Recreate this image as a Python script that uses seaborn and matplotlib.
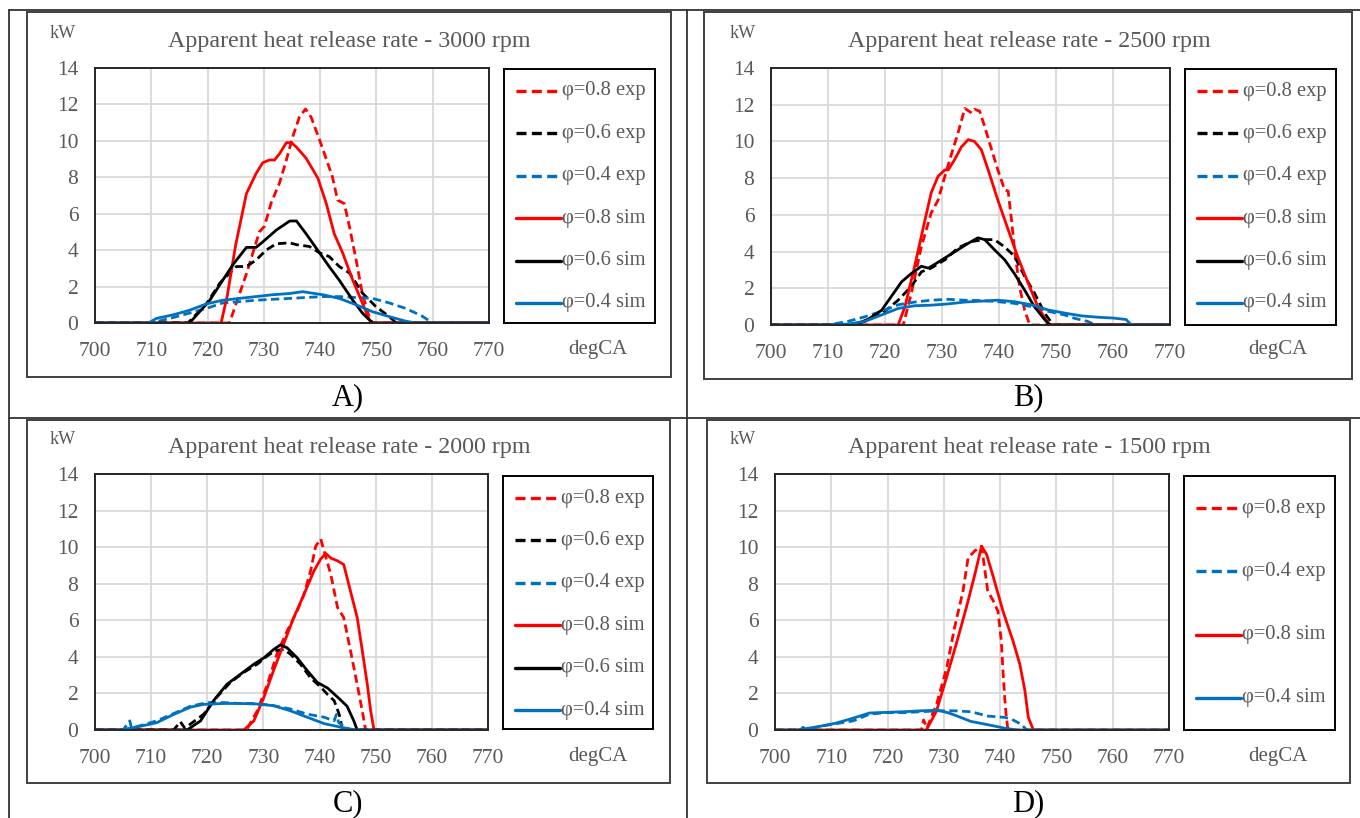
import matplotlib
matplotlib.use("Agg")
import matplotlib.pyplot as plt
from matplotlib.lines import Line2D
from matplotlib.patches import Rectangle
import seaborn as sns

# ---------------- data ----------------
XTICKS = [700, 710, 720, 730, 740, 750, 760, 770]
YTICKS = [0, 2, 4, 6, 8, 10, 12, 14]

# Panel A - 3000 rpm
a_r_exp_x = [700, 723.9, 724.5, 726.9, 729.2, 730.1, 731.3, 732.8, 734.0, 735.1, 736.3, 737.4, 738.4, 739.9, 741.1, 742.2, 743.1, 744.3, 745.2, 746.4, 747.5, 748.7, 749.3, 770]
a_r_exp_y = [0, 0, 0.55, 2.7, 5.0, 5.3, 6.6, 7.7, 8.95, 10.2, 11.3, 11.75, 11.3, 10.05, 9.0, 8.0, 6.75, 6.55, 5.3, 3.45, 1.6, 0.35, 0, 0]
a_k_exp_x = [700, 716.5, 719.8, 722.2, 725.1, 726.9, 728.6, 730.4, 732.2, 734.6, 735.8, 738.1, 739.9, 741.6, 743.4, 745.2, 747.5, 749.9, 752.3, 753.5, 770]
a_k_exp_y = [0, 0, 1.05, 2.2, 3.1, 3.1, 3.45, 4.0, 4.35, 4.4, 4.3, 4.2, 3.85, 3.65, 3.1, 2.75, 1.65, 0.9, 0.35, 0, 0]
a_b_exp_x = [700, 710.0, 713.9, 719.8, 722.7, 725.6, 728.6, 731.5, 734.6, 737.5, 740.5, 743.4, 746.4, 749.3, 752.3, 755.2, 758.0, 760.0, 770]
a_b_exp_y = [0, 0, 0.3, 0.8, 1.1, 1.17, 1.25, 1.3, 1.35, 1.4, 1.45, 1.45, 1.4, 1.35, 1.1, 0.8, 0.4, 0, 0]
a_r_sim_x = [700, 722.4, 723.5, 725.0, 726.9, 728.6, 729.8, 731.0, 731.9, 732.8, 734.0, 734.9, 735.8, 737.5, 739.6, 741.1, 742.5, 744.0, 745.8, 747.5, 748.7, 749.3, 770]
a_r_sim_y = [0, 0, 1.5, 4.3, 7.1, 8.2, 8.8, 8.95, 8.95, 9.3, 9.9, 9.9, 9.65, 9.05, 7.95, 6.55, 4.9, 3.85, 2.35, 1.1, 0.2, 0, 0]
a_k_sim_x = [700, 716.8, 720.4, 722.7, 724.5, 726.9, 728.6, 729.8, 732.2, 734.6, 735.8, 737.5, 739.9, 741.6, 743.4, 745.8, 747.5, 749.3, 770]
a_k_sim_y = [0, 0, 1.25, 2.35, 3.2, 4.15, 4.15, 4.45, 5.1, 5.6, 5.6, 4.9, 3.85, 3.1, 2.35, 1.25, 0.55, 0, 0]
a_b_sim_x = [700, 709.5, 710.9, 713.9, 716.8, 719.8, 722.7, 725.6, 728.6, 731.5, 734.6, 736.9, 740.5, 743.4, 746.4, 749.3, 752.3, 755.2, 757.0, 770]
a_b_sim_y = [0, 0, 0.25, 0.45, 0.7, 1.05, 1.25, 1.35, 1.45, 1.55, 1.62, 1.72, 1.55, 1.35, 1.0, 0.62, 0.35, 0.1, 0, 0]

# Panel B - 2500 rpm
b_r_exp_x = [700, 723.2, 724.6, 726.4, 728.1, 729.3, 730.5, 731.7, 732.8, 734.0, 735.2, 735.7, 736.6, 737.5, 738.7, 739.8, 741.0, 741.6, 742.2, 742.8, 743.6, 744.5, 745.4, 770]
b_r_exp_y = [0, 0, 1.7, 4.3, 6.1, 6.8, 8.1, 9.35, 10.45, 11.8, 11.55, 11.75, 11.65, 10.8, 9.55, 8.45, 7.35, 7.3, 5.7, 3.9, 2.1, 0.8, 0, 0]
b_k_exp_x = [700, 714.5, 719.4, 722.3, 724.6, 726.4, 728.1, 730.5, 732.8, 735.2, 737.5, 739.2, 741.0, 742.7, 744.5, 746.2, 748.0, 749.5, 770]
b_k_exp_y = [0, 0, 0.6, 1.35, 2.1, 2.9, 3.1, 3.55, 4.2, 4.55, 4.65, 4.65, 4.25, 3.75, 2.65, 1.75, 0.65, 0, 0]
b_b_exp_x = [700, 710.0, 713.5, 716.5, 719.4, 722.3, 725.2, 728.1, 731.1, 734.0, 736.9, 739.8, 742.7, 745.7, 748.6, 751.5, 753.3, 755.5, 757.0, 770]
b_b_exp_y = [0, 0, 0.2, 0.45, 0.75, 1.1, 1.25, 1.35, 1.4, 1.35, 1.33, 1.27, 1.18, 1.0, 0.75, 0.55, 0.36, 0.2, 0, 0]
b_r_sim_x = [700, 722.3, 723.5, 725.2, 727.0, 728.1, 729.3, 730.5, 731.1, 732.2, 733.4, 734.6, 735.7, 736.9, 738.1, 739.8, 741.6, 743.3, 745.1, 746.8, 748.6, 749.2, 770]
b_r_sim_y = [0, 0, 1.0, 3.2, 5.7, 7.2, 8.1, 8.45, 8.45, 9.0, 9.7, 10.1, 10.0, 9.55, 8.45, 6.8, 5.2, 3.7, 2.3, 1.0, 0.1, 0, 0]
b_k_sim_x = [700, 714.0, 716.5, 719.4, 721.1, 722.9, 724.6, 726.4, 727.6, 728.7, 730.5, 732.8, 734.6, 736.3, 737.5, 739.2, 741.0, 742.7, 744.5, 746.2, 748.0, 748.9, 770]
b_k_sim_y = [0, 0, 0.2, 0.8, 1.55, 2.35, 2.8, 3.2, 3.1, 3.3, 3.65, 4.1, 4.45, 4.75, 4.65, 4.1, 3.55, 2.8, 1.9, 1.0, 0.3, 0, 0]
b_b_sim_x = [700, 710.0, 713.5, 716.5, 719.4, 722.3, 725.2, 728.1, 731.1, 734.0, 736.9, 739.8, 742.7, 745.7, 748.6, 751.5, 754.4, 757.5, 760.0, 762.3, 763.2, 770]
b_b_sim_y = [0, 0, 0.05, 0.2, 0.55, 0.9, 1.05, 1.08, 1.15, 1.25, 1.3, 1.35, 1.27, 1.1, 0.82, 0.65, 0.5, 0.42, 0.38, 0.3, 0, 0]

# Panel C - 2000 rpm
c_r_exp_x = [700, 727.0, 728.9, 730.7, 732.4, 734.2, 736.0, 737.2, 738.4, 739.3, 740.2, 740.8, 742.0, 743.2, 744.3, 745.5, 746.7, 747.6, 748.2, 770]
c_r_exp_y = [0, 0, 1.05, 2.5, 4.15, 5.4, 6.5, 7.4, 8.7, 10.05, 10.45, 9.8, 8.5, 6.7, 6.15, 4.35, 2.5, 1.05, 0, 0]
c_k_exp_x = [700, 714.0, 715.2, 716.0, 719.3, 721.7, 724.1, 726.5, 728.9, 730.7, 732.1, 733.6, 734.8, 736.6, 738.4, 740.2, 741.4, 742.6, 743.5, 744.1, 770]
c_k_exp_y = [0, 0, 0.45, 0.1, 0.85, 1.8, 2.6, 3.15, 3.6, 4.05, 4.35, 4.4, 4.15, 3.6, 2.85, 2.35, 1.95, 1.6, 0.85, 0, 0]
c_b_exp_x = [700, 705.0, 706.2, 706.5, 711.0, 714.0, 717.0, 720.0, 722.9, 725.9, 728.9, 731.8, 734.8, 737.8, 740.8, 742.6, 743.0, 743.4, 745.5, 770]
c_b_exp_y = [0, 0, 0.5, 0.1, 0.5, 0.9, 1.3, 1.5, 1.5, 1.45, 1.45, 1.33, 1.15, 0.87, 0.7, 0.5, 0.85, 0.4, 0, 0]
c_r_sim_x = [700, 726.5, 728.3, 730.1, 731.8, 733.6, 735.4, 737.2, 739.0, 740.2, 741.1, 742.0, 743.2, 744.3, 745.5, 746.7, 747.6, 748.5, 749.1, 749.7, 770]
c_r_sim_y = [0, 0, 0.5, 1.8, 3.25, 4.7, 6.15, 7.4, 8.7, 9.35, 9.65, 9.4, 9.25, 9.05, 7.6, 6.15, 4.35, 2.5, 1.05, 0, 0]
c_k_sim_x = [700, 716.4, 718.8, 721.1, 723.5, 725.9, 728.3, 730.1, 731.8, 733.0, 734.2, 736.0, 737.8, 739.6, 741.4, 743.2, 744.9, 746.1, 746.7, 770]
c_k_sim_y = [0, 0, 0.5, 1.6, 2.5, 3.05, 3.6, 3.95, 4.4, 4.65, 4.5, 3.95, 3.25, 2.6, 2.3, 1.8, 1.3, 0.5, 0, 0]
c_b_sim_x = [700, 704.5, 708.0, 711.0, 714.0, 717.0, 719.3, 722.9, 725.9, 728.9, 731.8, 734.8, 737.8, 740.8, 743.8, 746.5, 770]
c_b_sim_y = [0, 0, 0.2, 0.4, 0.85, 1.25, 1.4, 1.45, 1.45, 1.42, 1.33, 1.05, 0.7, 0.35, 0.15, 0, 0]

# Panel D - 1500 rpm
d_r_exp_x = [700, 726.0, 726.4, 727.0, 728.0, 728.7, 730.5, 731.9, 733.4, 734.3, 735.5, 736.7, 737.3, 737.8, 738.8, 739.6, 740.2, 740.5, 740.8, 741.1, 741.4, 770]
d_r_exp_y = [0, 0, 0.55, 0.1, 0.9, 1.4, 3.4, 5.6, 7.6, 9.4, 9.8, 10.05, 8.7, 7.6, 7.05, 6.5, 4.9, 3.25, 1.8, 0.7, 0, 0]
d_b_exp_x = [700, 704.5, 705.0, 705.5, 708.0, 713.9, 716.8, 719.8, 722.9, 725.9, 728.9, 731.8, 734.8, 737.8, 740.8, 742.0, 743.8, 744.7, 770]
d_b_exp_y = [0, 0, 0.15, 0, 0.2, 0.5, 0.87, 0.95, 0.95, 1.0, 1.05, 1.05, 1.0, 0.76, 0.69, 0.6, 0.3, 0, 0]
d_r_sim_x = [700, 726.9, 728.7, 730.5, 732.2, 734.0, 735.5, 736.7, 737.6, 738.8, 740.5, 742.3, 743.5, 744.4, 745.0, 745.9, 770]
d_r_sim_y = [0, 0, 1.05, 2.9, 4.7, 6.7, 8.5, 10.05, 9.6, 8.35, 6.5, 4.85, 3.6, 2.15, 0.7, 0, 0]
d_b_sim_x = [700, 704.0, 708.0, 710.9, 713.9, 716.8, 718.6, 722.9, 725.9, 728.9, 730.7, 732.4, 734.8, 737.8, 740.8, 743.0, 770]
d_b_sim_y = [0, 0, 0.2, 0.38, 0.65, 0.93, 0.95, 1.0, 1.05, 1.08, 0.95, 0.76, 0.47, 0.29, 0.1, 0, 0]

LBL = {"r_exp": "φ=0.8 exp", "k_exp": "φ=0.6 exp", "b_exp": "φ=0.4 exp",
       "r_sim": "φ=0.8 sim", "k_sim": "φ=0.6 sim", "b_sim": "φ=0.4 sim"}

panels = [
    dict(title="Apparent heat release rate - 3000 rpm", tag="A)",
         series=[("r_exp", a_r_exp_x, a_r_exp_y), ("k_exp", a_k_exp_x, a_k_exp_y), ("b_exp", a_b_exp_x, a_b_exp_y),
                 ("r_sim", a_r_sim_x, a_r_sim_y), ("k_sim", a_k_sim_x, a_k_sim_y), ("b_sim", a_b_sim_x, a_b_sim_y)]),
    dict(title="Apparent heat release rate - 2500 rpm", tag="B)",
         series=[("r_exp", b_r_exp_x, b_r_exp_y), ("k_exp", b_k_exp_x, b_k_exp_y), ("b_exp", b_b_exp_x, b_b_exp_y),
                 ("r_sim", b_r_sim_x, b_r_sim_y), ("k_sim", b_k_sim_x, b_k_sim_y), ("b_sim", b_b_sim_x, b_b_sim_y)]),
    dict(title="Apparent heat release rate - 2000 rpm", tag="C)",
         series=[("r_exp", c_r_exp_x, c_r_exp_y), ("k_exp", c_k_exp_x, c_k_exp_y), ("b_exp", c_b_exp_x, c_b_exp_y),
                 ("r_sim", c_r_sim_x, c_r_sim_y), ("k_sim", c_k_sim_x, c_k_sim_y), ("b_sim", c_b_sim_x, c_b_sim_y)]),
    dict(title="Apparent heat release rate - 1500 rpm", tag="D)",
         series=[("r_exp", d_r_exp_x, d_r_exp_y), ("b_exp", d_b_exp_x, d_b_exp_y),
                 ("r_sim", d_r_sim_x, d_r_sim_y), ("b_sim", d_b_sim_x, d_b_sim_y)]),
]

# ---------------- style ----------------
COL = {"r": "#FF0000", "k": "#000000", "b": "#0070C0"}
DASH = (0, (3.0, 1.6))
LW = 2.0
GRAY = "#595959"

sns.set_style("white")
plt.rcParams["font.family"] = ["Liberation Serif", "DejaVu Serif"]

W, H = 1360, 818
fig = plt.figure(figsize=(W / 100, H / 100), dpi=100)
fig.patch.set_facecolor("white")


def frect(x0, y0, x1, y1):
    return [x0 / W, 1 - y1 / H, (x1 - x0) / W, (y1 - y0) / H]


def fx(x):
    return x / W


def fy(y):
    return 1 - y / H


# table lines
for (x0, y0, x1, y1) in [(9, 10, 1360, 10), (9, 418, 1360, 418), (9, 10, 9, 818), (687, 10, 687, 818)]:
    fig.add_artist(Line2D([fx(x0), fx(x1)], [fy(y0), fy(y1)], color="#333333", lw=1.3,
                          transform=fig.transFigure))

# layout per panel: chart box, plot area, legend box, offsets
layout = [
    dict(box=(27, 12, 671, 377), plot=(95, 68, 489, 323), leg=(504, 69, 655, 323), ox=0, oy=0),
    dict(box=(704, 12, 1352, 379), plot=(771, 68, 1170, 325), leg=(1185, 69, 1336, 325), ox=680, oy=0),
    dict(box=(27, 420, 670, 783), plot=(95, 474, 488, 730), leg=(503, 476, 653, 729), ox=0, oy=406),
    dict(box=(707, 420, 1350, 783), plot=(775, 474, 1169, 730), leg=(1184, 476, 1335, 730), ox=680, oy=406),
]

for p, L in zip(panels, layout):
    bx0, by0, bx1, by1 = L["box"]
    fig.add_artist(Rectangle((fx(bx0), fy(by1)), (bx1 - bx0) / W, (by1 - by0) / H, fill=False,
                             edgecolor="#404040", lw=1.4, transform=fig.transFigure))
    ox, oy = L["ox"], L["oy"]
    ax = fig.add_axes(frect(*L["plot"]))
    for key, xs, ys in p["series"]:
        c = COL[key[0]]
        ls = DASH if key.endswith("exp") else "-"
        sns.lineplot(x=xs, y=ys, ax=ax, color=c, linestyle=ls, linewidth=LW,
                     estimator=None, sort=False, legend=False)
    ax.set_xlim(700, 770)
    ax.set_ylim(0, 14)
    ax.set_xticks(XTICKS)
    ax.set_yticks(YTICKS)
    ax.set_xticklabels([str(v) for v in XTICKS])
    ax.set_yticklabels([str(v) for v in YTICKS])
    ax.grid(True, color="#D9D9D9", lw=1.3)
    ax.set_axisbelow(True)
    ax.tick_params(length=0, labelsize=15.5, labelcolor=GRAY)
    ax.tick_params(axis="y", pad=12)
    ax.tick_params(axis="x", pad=14)
    for s in ax.spines.values():
        s.set_visible(True)
        s.set_color("#262626")
        s.set_linewidth(1.4)
    ax.set_xlabel("")
    ax.set_ylabel("")

    # texts
    fig.text(fx(349 + ox), fy(41 + oy), p["title"], ha="center", va="center", fontsize=17.3, color=GRAY)
    fig.text(fx(63 + ox), fy(33 + oy), "kW", ha="center", va="center", fontsize=13, color=GRAY)
    fig.text(fx(598 + ox), fy(350 + oy), "degCA", ha="center", va="center", fontsize=15, color=GRAY)
    fig.text(fx(348 + ox), fy(398 + oy), p["tag"], ha="center", va="center", fontsize=22, color="black")

    # legend box
    lx0, ly0, lx1, ly1 = L["leg"]
    lax = fig.add_axes(frect(lx0, ly0, lx1, ly1))
    lw_, lh_ = lx1 - lx0, ly1 - ly0
    lax.set_xlim(0, lw_)
    lax.set_ylim(lh_, 0)
    lax.set_xticks([])
    lax.set_yticks([])
    for s in lax.spines.values():
        s.set_visible(True)
        s.set_color("#000000")
        s.set_linewidth(1.4)
    n = len(p["series"])
    if n == 6:
        ys_leg = [22 + i * 42.4 for i in range(6)]
    else:
        ys_leg = [32 + i * 63.3 for i in range(4)]
    for (key, _, _), yy in zip(p["series"], ys_leg):
        c = COL[key[0]]
        ls = DASH if key.endswith("exp") else "-"
        lax.add_line(Line2D([12, 57], [yy, yy], color=c, linestyle=ls, lw=LW + 0.4))
        lax.text(58, yy, LBL[key], ha="left", va="center", fontsize=14.8, color=GRAY)

fig.savefig("out.png", dpi=100, facecolor="white")
